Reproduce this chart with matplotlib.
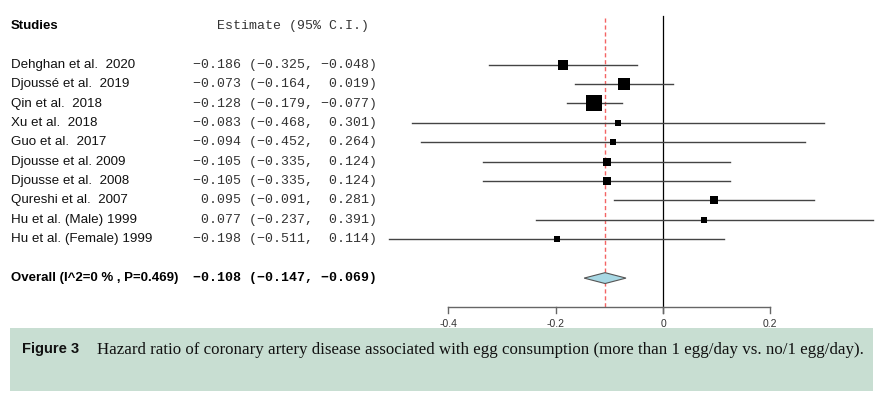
import matplotlib.pyplot as plt
from matplotlib.patches import Polygon, Rectangle

studies = ['Dehghan et al.  2020', 'Djoussé et al.  2019', 'Qin et al.  2018',
           'Xu et al.  2018', 'Guo et al.  2017', 'Djousse et al. 2009',
           'Djousse et al.  2008', 'Qureshi et al.  2007', 'Hu et al. (Male) 1999',
           'Hu et al. (Female) 1999']
est = [-0.186, -0.073, -0.128, -0.083, -0.094, -0.105, -0.105, 0.095, 0.077, -0.198]
lower = [-0.325, -0.164, -0.179, -0.468, -0.452, -0.335, -0.335, -0.091, -0.237, -0.511]
upper = [-0.048, 0.019, -0.077, 0.301, 0.264, 0.124, 0.124, 0.281, 0.391, 0.114]
weights = [9, 11, 15, 6, 6, 7, 7, 8, 6, 6]   # relative box size

overall_label = 'Overall (I^2=0 % , P=0.469)'
overall = [-0.108, -0.147, -0.069]
xticks = [-0.4, -0.2, 0, 0.2]
caption = 'Hazard ratio of coronary artery disease associated with egg consumption (more than 1 egg/day vs. no/1 egg/day).'


def fmt(e, l, u):
    s = f'{e:6.3f} ({l:6.3f}, {u:6.3f})'
    return s.replace('-', '\u2212')


W, H = 880, 398
fig = plt.figure(figsize=(W / 100, H / 100), dpi=100)
ax = fig.add_axes([0, 0, 1, 1])
ax.axis('off')

# pixel mapping: x0 at 663px, 536.5 px per unit; row 0 at 25.9px, 19.4 px per row
ax.set_xlim(-663 / 536.5, (W - 663) / 536.5)
ax.set_ylim((H - 25.9) / 19.4, -25.9 / 19.4)

tr = ax.get_yaxis_transform()
mono = 'Liberation Mono'
sans = 'Liberation Sans'

ax.text(11 / W, 0, 'Studies', transform=tr, fontsize=9.5, fontweight='bold',
        family=sans, va='center')
ax.text(216.7 / W, 0, 'Estimate (95% C.I.)', transform=tr, fontsize=9.5,
        family=mono, va='center', color='#333333')

rows = list(range(2, 2 + len(studies)))
for r, name, e, l, u, w in zip(rows, studies, est, lower, upper, weights):
    ax.text(11 / W, r, name, transform=tr, fontsize=9.6, family=sans, va='center',
            color='#111111')
    ax.text(193 / W, r, fmt(e, l, u), transform=tr, fontsize=9.5, family=mono,
            va='center', color='#333333')
    ax.plot([l, u], [r, r], color='#444444', lw=1.0, zorder=2)
    ax.plot(e, r, marker='s', ms=w * 0.74, color='black', mec='black', mew=0, zorder=3)

orow = rows[-1] + 2
ax.text(11 / W, orow, overall_label, transform=tr, fontsize=9.5, fontweight='bold',
        family=sans, va='center')
ax.text(193 / W, orow, fmt(*overall), transform=tr, fontsize=9.5, fontweight='bold',
        family=mono, va='center')
h = 0.28
ax.add_patch(Polygon([(overall[1], orow), (overall[0], orow - h), (overall[2], orow),
                      (overall[0], orow + h)], closed=True, facecolor='#a8d8e4',
                     edgecolor='#555555', lw=0.8, zorder=3))

# axis
arow = 14.47
ax.plot([xticks[0], xticks[-1]], [arow, arow], color='#666666', lw=1.0)
for t in xticks:
    ax.plot([t, t], [arow, arow + 0.31], color='#666666', lw=1.0)
    ax.text(t, arow + 0.9, f'{t:g}', fontsize=7.5, family=sans, ha='center',
            va='center', color='#333333')

ax.plot([0, 0], [-0.5, arow + 0.31], color='black', lw=0.9, zorder=1)
ax.plot([overall[0], overall[0]], [-0.4, arow], color='#f46464', lw=1.0,
        ls=(0, (3, 2)), zorder=1)

# caption box
fig.add_artist(Rectangle((10 / W, 1 - 390.7 / H), 862.7 / W, 62.7 / H,
                         transform=fig.transFigure, facecolor='#c8ded2',
                         edgecolor='none', zorder=5))
fig.text(22 / W, 1 - 349 / H, 'Figure 3', fontsize=10.5, fontweight='bold',
         family=sans, va='center', zorder=6, color='#111111')
fig.text(97 / W, 1 - 349.5 / H, caption, fontsize=12.2, family='Liberation Serif',
         va='center', zorder=6, color='#111111')

fig.savefig('out.png', dpi=100, facecolor='white')
